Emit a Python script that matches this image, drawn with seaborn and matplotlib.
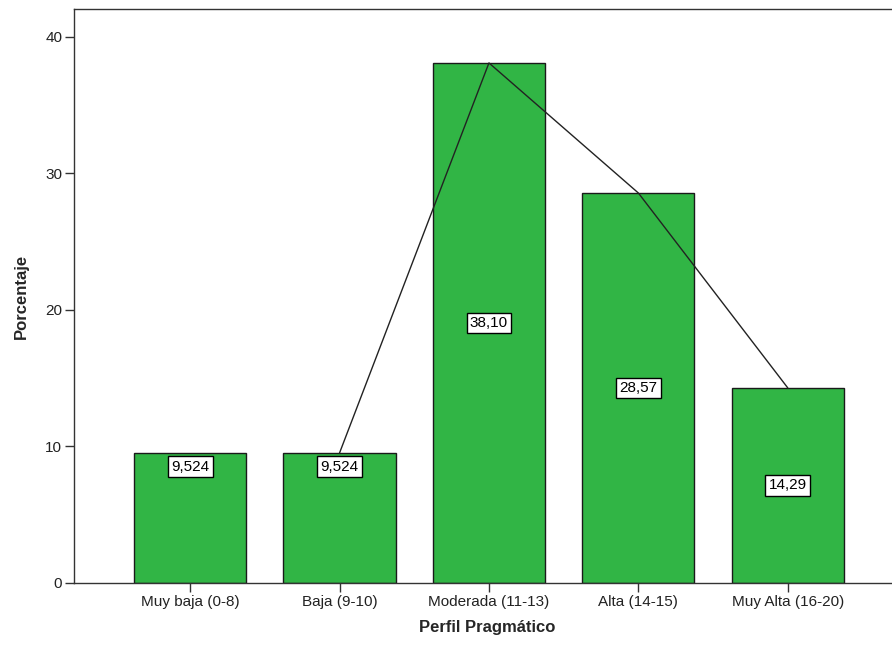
import matplotlib
matplotlib.use("Agg")
import matplotlib.pyplot as plt
import numpy as np
import pandas as pd
import seaborn as sns

categorias = ["Muy baja (0-8)", "Baja (9-10)", "Moderada (11-13)", "Alta (14-15)", "Muy Alta (16-20)"]
porcentaje = [9.524, 9.524, 38.10, 28.57, 14.29]
etiquetas = ["9,524", "9,524", "38,10", "28,57", "14,29"]
# the polygon line starts at the second category
linea_desde = 1

sns.set_theme(style="white")
plt.rcParams["font.family"] = ["Liberation Sans", "DejaVu Sans"]

df = pd.DataFrame({"cat": categorias, "pct": porcentaje})

fig = plt.figure(figsize=(8.92, 6.48), dpi=100)
ax = fig.add_axes([74 / 892, 65 / 648, 1 - 74 / 892 + 0.01, 574 / 648])

sns.barplot(data=df, x="cat", y="pct", color="#31b545", saturation=1,
            edgecolor="#1a1a1a", linewidth=1.0, width=0.75, ax=ax)

pos = np.arange(len(categorias))
ax.plot(pos[linea_desde:], porcentaje[linea_desde:], color="#222222", linewidth=1.0)

for x, v, t in zip(pos, porcentaje, etiquetas):
    y = v - 1.0 if v < 10 else v / 2
    ax.text(x, y, t, ha="center", va="center", fontsize=11, color="black",
            bbox=dict(boxstyle="square,pad=0.22", facecolor="white", edgecolor="black", linewidth=1.0))

ax.set_xlim(-0.777, 4.757)
ax.set_ylim(0, 42.05)
ax.set_yticks([0, 10, 20, 30, 40])
ax.tick_params(axis="both", which="major", direction="out", length=6.5, width=1,
               color="#333333", labelsize=11, labelcolor="#222222", pad=2,
               bottom=True, left=True)

for side in ["left", "bottom", "top"]:
    ax.spines[side].set_color("#333333")
    ax.spines[side].set_linewidth(1.0)
ax.spines["right"].set_visible(False)

ax.set_xlabel("Perfil Pragmático", fontsize=12, fontweight="bold", labelpad=8)
ax.set_ylabel("Porcentaje", fontsize=12, fontweight="bold", labelpad=12)

fig.savefig("out.png", dpi=100)
